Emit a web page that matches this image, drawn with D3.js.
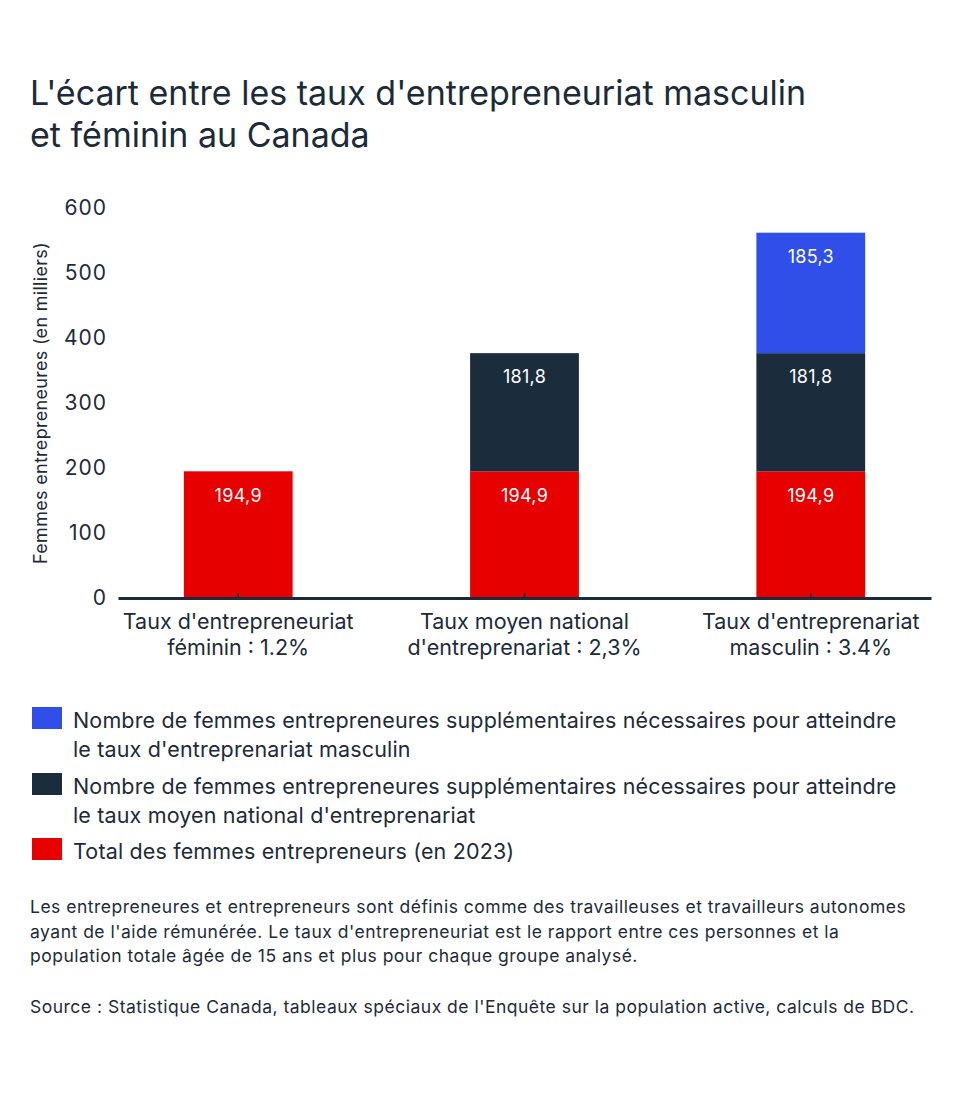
<!DOCTYPE html>
<html>
<head>
    <meta charset="utf-8">
    <title>L'écart entre les taux d'entrepreneuriat</title>
    <script src="https://cdn.jsdelivr.net/npm/d3@7"></script>
    <style type="text/css">
        body {
            margin: 0;
            background: #ffffff;
        }
        svg text {
            font-family: Inter, "Open Sans", sans-serif;
            fill: #1c2b39;
        }
    </style>
</head>
<body>
    <div id="chart"></div>
    <script>
        // data
        var categories = ["fem", "moy", "masc"];
        var categoryLabels = [
            ["Taux d'entrepreneuriat", "féminin : 1.2%"],
            ["Taux moyen national", "d'entreprenariat : 2,3%"],
            ["Taux d'entreprenariat", "masculin : 3.4%"]
        ];
        var seriesKeys = ["total", "moyen", "masculin"];
        var totalValues = [194.9, 194.9, 194.9];
        var moyenValues = [0, 181.8, 181.8];
        var masculinValues = [0, 0, 185.3];
        var yTicks = [0, 100, 200, 300, 400, 500, 600];
        var legendLabels = [
            ["Nombre de femmes entrepreneures supplémentaires nécessaires pour atteindre", "le taux d'entreprenariat masculin"],
            ["Nombre de femmes entrepreneures supplémentaires nécessaires pour atteindre", "le taux moyen national d'entreprenariat"],
            ["Total des femmes entrepreneurs (en 2023)"]
        ];
        var legendKeys = ["masculin", "moyen", "total"];

        var colors = { total: "#e60000", moyen: "#1b2d3d", masculin: "#2f4fe8" };
        var dark = "#1c2b39";

        var W = 960, H = 1098;
        var svg = d3.select("#chart").append("svg")
            .attr("width", W)
            .attr("height", H);

        // title
        var title = svg.append("text")
            .attr("x", 30)
            .attr("y", 105)
            .attr("font-size", "34px");
        title.append("tspan").attr("x", 30).text("L'écart entre les taux d'entrepreneuriat masculin");
        title.append("tspan").attr("x", 30).attr("dy", 42).text("et féminin au Canada");

        // scales
        var x = d3.scaleBand()
            .domain(categories)
            .range([118, 931])
            .paddingInner(0.62)
            .paddingOuter(0.23);

        var y = d3.scaleLinear()
            .domain([0, 600])
            .range([598, 208]);

        var table = categories.map(function(c, i) {
            return { cat: c, total: totalValues[i], moyen: moyenValues[i], masculin: masculinValues[i] };
        });
        var stacked = d3.stack().keys(seriesKeys)(table);

        // bars
        var layers = svg.append("g").selectAll("g")
            .data(stacked)
            .enter().append("g")
            .attr("fill", function(d) { return colors[d.key]; });

        layers.selectAll("rect")
            .data(function(d) { return d.filter(function(p) { return p[1] - p[0] > 0; }); })
            .enter().append("rect")
            .attr("x", function(d) { return x(d.data.cat); })
            .attr("y", function(d) { return y(d[1]); })
            .attr("width", x.bandwidth())
            .attr("height", function(d) { return y(d[0]) - y(d[1]); });

        // value labels
        layers.selectAll("text")
            .data(function(d) { return d.filter(function(p) { return p[1] - p[0] > 0; }); })
            .enter().append("text")
            .attr("x", function(d) { return x(d.data.cat) + x.bandwidth() / 2; })
            .attr("y", function(d) { return y(d[1]) + 24; })
            .attr("dy", "0.35em")
            .attr("text-anchor", "middle")
            .attr("font-size", "18px")
            .attr("letter-spacing", "0.3px")
            .style("fill", "#ffffff")
            .text(function(d) { return d3.format(".1f")(d[1] - d[0]).replace(".", ","); });

        // y axis (labels only)
        var yAxis = svg.append("g")
            .attr("transform", "translate(107,0)")
            .call(d3.axisLeft(y).tickValues(yTicks).tickSize(0).tickPadding(0));
        yAxis.select(".domain").remove();
        yAxis.selectAll("text")
            .attr("font-size", "21px")
            .attr("letter-spacing", "1px")
            .attr("font-family", null)
            .attr("dy", "0.3em");

        svg.append("text")
            .attr("transform", "translate(47,403) rotate(-90)")
            .attr("text-anchor", "middle")
            .attr("font-size", "18px")
            .attr("letter-spacing", "0.3px")
            .text("Femmes entrepreneures (en milliers)");

        // x axis
        var xAxis = svg.append("g")
            .attr("transform", "translate(0," + y(0) + ")")
            .call(d3.axisBottom(x).tickSize(-5).tickSizeOuter(0).tickFormat(""));
        xAxis.select(".domain")
            .attr("stroke", dark)
            .attr("stroke-width", 3);
        xAxis.selectAll(".tick line")
            .attr("stroke", dark)
            .attr("stroke-width", 1.5);

        var xLabels = svg.append("g").selectAll("text")
            .data(categories)
            .enter().append("text")
            .attr("text-anchor", "middle")
            .attr("font-size", "21.5px")
            .attr("y", 629);
        xLabels.each(function(c, i) {
            var t = d3.select(this);
            categoryLabels[i].forEach(function(line, j) {
                t.append("tspan")
                    .attr("x", x(c) + x.bandwidth() / 2)
                    .attr("dy", j === 0 ? 0 : 26)
                    .text(line);
            });
        });

        // legend
        var legendY = [707, 773, 838];
        var legend = svg.append("g").selectAll("g")
            .data(legendKeys)
            .enter().append("g")
            .attr("transform", function(d, i) { return "translate(32," + legendY[i] + ")"; });

        legend.append("rect")
            .attr("width", 30)
            .attr("height", 22)
            .attr("fill", function(d) { return colors[d]; });

        legend.append("text")
            .attr("x", 41)
            .attr("y", 21)
            .attr("font-size", "21.5px")
            .attr("letter-spacing", "0.15px")
            .each(function(d, i) {
                var t = d3.select(this);
                legendLabels[i].forEach(function(line, j) {
                    t.append("tspan")
                        .attr("x", 41)
                        .attr("dy", j === 0 ? 0 : 29)
                        .text(line);
                });
            });

        // notes
        var notes = [
            "Les entrepreneures et entrepreneurs sont définis comme des travailleuses et travailleurs autonomes",
            "ayant de l'aide rémunérée. Le taux d'entrepreneuriat est le rapport entre ces personnes et la",
            "population totale âgée de 15 ans et plus pour chaque groupe analysé."
        ];
        svg.append("g").selectAll("text")
            .data(notes)
            .enter().append("text")
            .attr("x", 30)
            .attr("y", function(d, i) { return 913 + i * 24.5; })
            .attr("font-size", "17.5px")
            .attr("letter-spacing", "0.5px")
            .text(function(d) { return d; });

        svg.append("text")
            .attr("x", 30)
            .attr("y", 1013)
            .attr("font-size", "17.5px")
            .attr("letter-spacing", "0.5px")
            .text("Source : Statistique Canada, tableaux spéciaux de l'Enquête sur la population active, calculs de BDC.");
    </script>
</body>
</html>
